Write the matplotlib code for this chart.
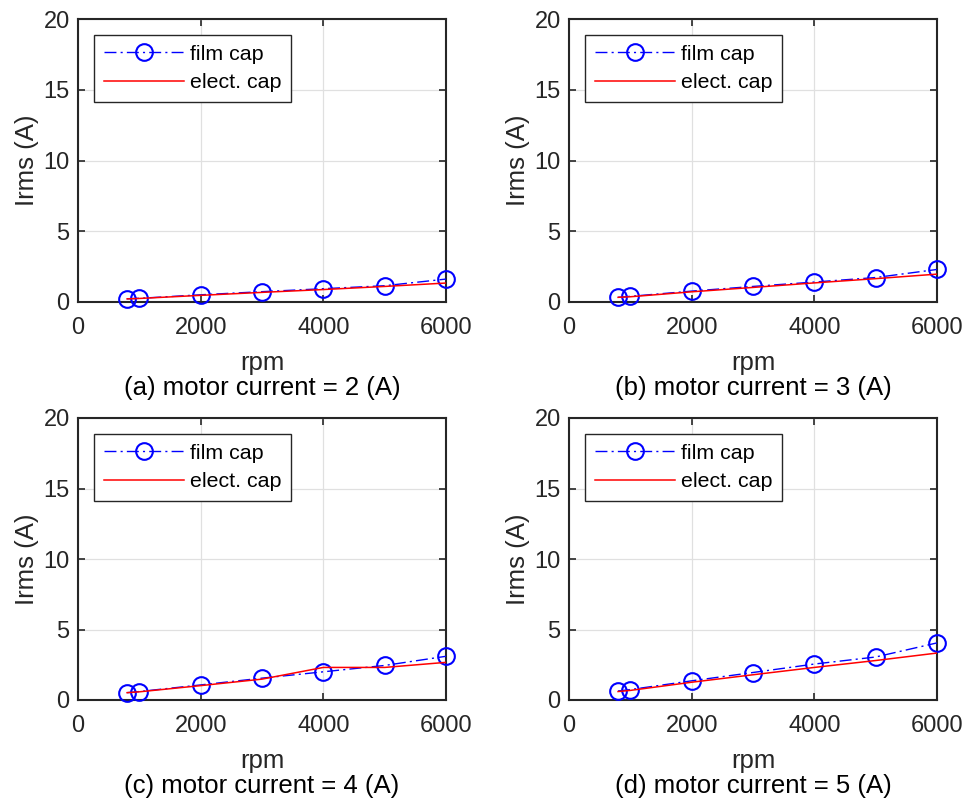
import matplotlib
matplotlib.use("Agg")
from matplotlib import pyplot as plt

plt.rcParams['font.family'] = ['Liberation Sans', 'DejaVu Sans']

# Ripple current vs. speed for each motor current
rpm = [800, 1000, 2000, 3000, 4000, 5000, 6000]

film_2A = [0.23, 0.26, 0.51, 0.73, 0.94, 1.15, 1.62]
elect_2A = [0.22, 0.25, 0.47, 0.68, 0.88, 1.10, 1.34]

film_3A = [0.33, 0.40, 0.77, 1.10, 1.41, 1.73, 2.30]
elect_3A = [0.33, 0.37, 0.72, 1.03, 1.35, 1.65, 1.97]

film_4A = [0.52, 0.60, 1.07, 1.55, 2.00, 2.45, 3.10]
elect_4A = [0.52, 0.58, 1.02, 1.48, 2.31, 2.31, 2.67]

film_5A = [0.64, 0.74, 1.36, 1.95, 2.55, 3.05, 4.05]
elect_5A = [0.60, 0.68, 1.26, 1.79, 2.31, 2.80, 3.33]

captions = ['(a) motor current = 2 (A)', '(b) motor current = 3 (A)',
            '(c) motor current = 4 (A)', '(d) motor current = 5 (A)']
films = [film_2A, film_3A, film_4A, film_5A]
elects = [elect_2A, elect_3A, elect_4A, elect_5A]

W, H = 966, 801
fig = plt.figure(figsize=(W / 100, H / 100), dpi=100)

# axes boxes in pixels: left, top, right, bottom
boxes = [(78, 19, 446, 302), (569, 19, 937, 302),
         (78, 418, 446, 700), (569, 418, 937, 700)]

dark = '#262626'
for box, film, elect, cap in zip(boxes, films, elects, captions):
    l, t, r, b = box
    w, h = r - l, b - t
    ax = fig.add_axes([l / W, 1 - b / H, w / W, h / H])
    ax.plot(rpm, film, color='blue', linestyle=(0, (8.6, 3, 1.5, 3)),
            linewidth=1.0, marker='o', markersize=12,
            markerfacecolor='none', markeredgewidth=1.5,
            label='film cap', clip_on=False, zorder=3)
    ax.plot(rpm, elect, color='red', linewidth=1.1, label='elect. cap',
            zorder=3)
    ax.set_xlim(0, 6000)
    ax.set_ylim(0, 20)
    ax.set_xticks([0, 2000, 4000, 6000])
    ax.set_yticks([0, 5, 10, 15, 20])
    ax.grid(True, color='#e0e0e0', linewidth=0.9)
    ax.set_axisbelow(True)
    ax.tick_params(direction='in', length=5, width=1.2, top=True, right=True,
                   labelsize=17, colors=dark)
    ax.tick_params(axis='x', pad=11)
    ax.tick_params(axis='y', pad=6)
    for s in ax.spines.values():
        s.set_linewidth(1.5)
        s.set_color(dark)

    ax.set_ylabel('Irms (A)', fontsize=18.5, color=dark, va='center')
    ax.yaxis.set_label_coords(-51 / w, 0.5)
    ax.set_xlabel('rpm', fontsize=18.5, color=dark, va='center')
    ax.xaxis.set_label_coords(0.5, -61 / h)
    # panel caption under the x label
    fig.text((l + r) / 2 / W, 1 - (b + 86) / H, cap, fontsize=18.5,
             color='black', ha='center', va='center')

    leg = ax.legend(loc='upper left', bbox_to_anchor=(0.0435, 0.9435),
                    fontsize=15.4, frameon=True, fancybox=False,
                    borderpad=0.45, handlelength=3.75, handletextpad=0.3,
                    labelspacing=0.45, borderaxespad=0)
    leg.get_frame().set_edgecolor(dark)
    leg.get_frame().set_linewidth(1.0)
    leg.get_frame().set_alpha(1)

fig.savefig('out.png', dpi=100)
